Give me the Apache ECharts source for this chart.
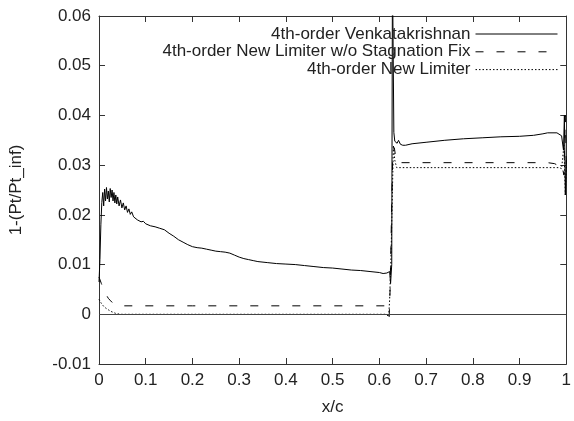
<!DOCTYPE html>
<html>
<head>
<meta charset="utf-8">
<script src="https://cdn.jsdelivr.net/npm/echarts@6/dist/echarts.min.js"></script>
<style>html,body{margin:0;padding:0;background:#fff}#c{width:574px;height:421px}</style>
</head>
<body>
<div id="c"></div>
<script>
var seriesNames = ['4th-order Venkatakrishnan', '4th-order New Limiter w/o Stagnation Fix', '4th-order New Limiter'];
var xTickLabels = ['0', '0.1', '0.2', '0.3', '0.4', '0.5', '0.6', '0.7', '0.8', '0.9', '1'];
var yTickLabels = ['-0.01', '0', '0.01', '0.02', '0.03', '0.04', '0.05', '0.06'];

var venkatakrishnan = [
  [0, 0.0065], [0.002, 0.011], [0.004, 0.018], [0.006, 0.0225], [0.008, 0.0245], [0.010, 0.0218],
  [0.012, 0.0252], [0.014, 0.0228], [0.016, 0.0255], [0.018, 0.0232], [0.020, 0.0248], [0.022, 0.0226],
  [0.024, 0.0253], [0.026, 0.0235], [0.028, 0.025], [0.030, 0.0228], [0.032, 0.0245], [0.034, 0.0224],
  [0.036, 0.0240], [0.038, 0.0222], [0.040, 0.0236], [0.043, 0.0218], [0.046, 0.0230], [0.049, 0.0214],
  [0.052, 0.0224], [0.055, 0.0210], [0.058, 0.0218], [0.061, 0.0205], [0.064, 0.0212], [0.067, 0.0201],
  [0.070, 0.0206], [0.074, 0.0196], [0.078, 0.0200], [0.082, 0.0190], [0.086, 0.0193], [0.090, 0.0186],
  [0.095, 0.0187], [0.10, 0.0182], [0.11, 0.0178], [0.12, 0.0176], [0.13, 0.0173], [0.14, 0.0170],
  [0.15, 0.0163], [0.16, 0.0157], [0.17, 0.0150], [0.18, 0.0145], [0.19, 0.0140], [0.20, 0.0136],
  [0.21, 0.0134], [0.22, 0.0133], [0.23, 0.0131], [0.24, 0.0129], [0.25, 0.0127], [0.26, 0.0126],
  [0.27, 0.0125], [0.28, 0.0123], [0.29, 0.0119], [0.30, 0.0115], [0.31, 0.0112], [0.32, 0.0110],
  [0.33, 0.0108], [0.34, 0.0106], [0.36, 0.0104], [0.38, 0.0102], [0.40, 0.0101], [0.42, 0.0100],
  [0.44, 0.0098], [0.46, 0.0096], [0.48, 0.0094], [0.50, 0.0093], [0.52, 0.0091], [0.54, 0.0089],
  [0.56, 0.0088], [0.58, 0.0086], [0.60, 0.0084], [0.604, 0.0088], [0.608, 0.0082], [0.612, 0.0078],
  [0.616, 0.0083], [0.620, 0.0079], [0.622, 0.0086], [0.624, 0.0062], [0.6265, 0.010], [0.628, 0.07],
  [0.6295, 0.07], [0.631, 0.0366], [0.633, 0.0348], [0.635, 0.0352], [0.638, 0.0344], [0.641, 0.0350],
  [0.645, 0.0342], [0.65, 0.0340], [0.656, 0.0340], [0.67, 0.0343], [0.70, 0.0346], [0.74, 0.0350],
  [0.78, 0.0353], [0.82, 0.0355], [0.86, 0.0357], [0.90, 0.0358], [0.93, 0.0360], [0.95, 0.0363],
  [0.96, 0.0365], [0.98, 0.0365], [0.99, 0.0359], [0.994, 0.0330], [0.996, 0.0400], [0.998, 0.0240],
  [1.0, 0.0310]
];

var newLimiterNoFix = [
  [0, 0.0075], [0.005, 0.0062], [0.010, 0.0050], [0.015, 0.0040], [0.020, 0.0032], [0.025, 0.0027],
  [0.030, 0.0022], [0.035, 0.0019], [0.05, 0.0017], [0.2, 0.0017], [0.4, 0.0017], [0.615, 0.0017],
  [0.619, 0.0005], [0.621, -0.0005], [0.623, 0.005], [0.625, 0.015], [0.627, 0.025], [0.629, 0.033],
  [0.632, 0.0335], [0.636, 0.0310], [0.64, 0.0305], [0.8, 0.0305], [0.96, 0.0305], [0.975, 0.0303],
  [0.985, 0.0298], [0.99, 0.0302], [0.995, 0.0280], [0.998, 0.0400], [1.0, 0.0300]
];

var newLimiter = [
  [0, 0.0030], [0.005, 0.0022], [0.010, 0.0016], [0.015, 0.0012], [0.020, 0.0009], [0.025, 0.0006],
  [0.030, 0.0004], [0.035, 0.0002], [0.045, 0], [0.2, 0], [0.4, 0], [0.615, 0],
  [0.620, -0.0005], [0.622, 0.003], [0.625, 0.012], [0.628, 0.025], [0.630, 0.034], [0.633, 0.031],
  [0.637, 0.0295], [0.8, 0.0295], [0.985, 0.0295], [0.99, 0.0293], [0.995, 0.0340], [0.998, 0.0240],
  [1.0, 0.0300]
];

var font = "'Liberation Sans', Arial, Helvetica, sans-serif";
var axisColor = '#333';
var chart = echarts.init(document.getElementById('c'), null, {renderer: 'canvas'});

function xAxisCfg(pos, show) {
  return {
    type: 'value', position: pos, min: 0, max: 1, interval: 0.1,
    name: show ? 'x/c' : '', nameLocation: 'middle', nameGap: 35,
    nameTextStyle: {fontFamily: font, fontSize: 17, color: '#222'},
    axisLine: {show: true, onZero: false, lineStyle: {color: axisColor, width: 1}},
    axisTick: {show: true, inside: true, length: 6, lineStyle: {color: axisColor}},
    axisLabel: {show: show, margin: 8, fontFamily: font, fontSize: 17, color: '#222',
      formatter: function (v, i) { return xTickLabels[i]; }},
    splitLine: {show: false}
  };
}
function yAxisCfg(pos, show) {
  return {
    type: 'value', position: pos, min: -0.01, max: 0.06, interval: 0.01,
    name: show ? '1-(Pt/Pt_inf)' : '', nameLocation: 'middle', nameGap: 74,
    nameTextStyle: {fontFamily: font, fontSize: 17, color: '#222'},
    axisLine: {show: true, onZero: false, lineStyle: {color: axisColor, width: 1}},
    axisTick: {show: true, inside: true, length: 6, lineStyle: {color: axisColor}},
    axisLabel: {show: show, margin: 8, fontFamily: font, fontSize: 17, color: '#222',
      formatter: function (v, i) { return yTickLabels[i]; }},
    splitLine: {show: false}
  };
}

function lineSeries(name, data, type) {
  return {
    name: name, type: 'line', data: data, xAxisIndex: 0, yAxisIndex: 0,
    symbol: 'none', showSymbol: false, smooth: false, clip: true,
    lineStyle: {color: '#000', width: 1, type: type},
    itemStyle: {color: '#000'}
  };
}

var s0 = lineSeries(seriesNames[0], venkatakrishnan, 'solid');
s0.markLine = {
  silent: true, symbol: ['none', 'none'], label: {show: false},
  lineStyle: {color: '#444', width: 1, type: 'solid'},
  data: [{yAxis: 0}], animation: false
};

chart.setOption({
  animation: false,
  backgroundColor: '#fff',
  grid: {left: 99, right: 1, top: 16, bottom: 55, containLabel: false},
  xAxis: [xAxisCfg('bottom', true), xAxisCfg('top', false)],
  yAxis: [yAxisCfg('left', true), yAxisCfg('right', false)],
  legend: {
    orient: 'vertical', align: 'right', right: 11, top: 20.5,
    itemWidth: 82, itemHeight: 14, itemGap: 0.8,
    itemStyle: {color: 'transparent', borderColor: 'transparent', borderWidth: 0, opacity: 0},
    lineStyle: {width: 1, color: '#000', inactiveWidth: 1},
    textStyle: {fontFamily: font, fontSize: 17, color: '#222'},
    data: seriesNames
  },
  series: [
    s0,
    lineSeries(seriesNames[1], newLimiterNoFix, [8, 13]),
    lineSeries(seriesNames[2], newLimiter, [1.5, 2])
  ]
});
</script>
</body>
</html>
